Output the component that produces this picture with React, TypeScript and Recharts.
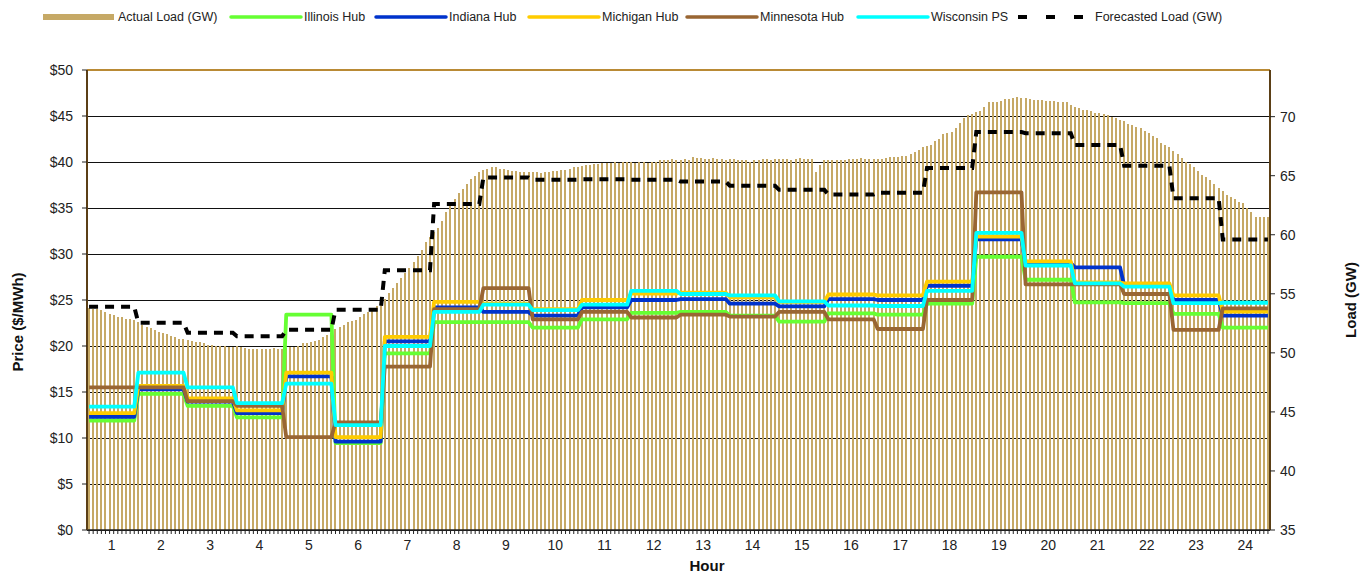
import React from 'react';
import { ComposedChart, Bar, Line, XAxis, YAxis, CartesianGrid, ReferenceLine } from 'recharts';

// 5-minute actual load (GW), 12 readings per hour
const actualLoad: number[][] = [
  [53.8, 53.7, 53.7, 53.6, 53.5, 53.3, 53.2, 53.0, 53.0, 52.9, 52.9, 52.8],
  [52.6, 52.4, 52.2, 52.1, 51.9, 51.8, 51.7, 51.6, 51.4, 51.3, 51.2, 51.2],
  [51.1, 51.0, 50.9, 50.9, 50.8, 50.7, 50.7, 50.6, 50.6, 50.6, 50.5, 50.5],
  [50.6, 50.5, 50.4, 50.3, 50.3, 50.3, 50.3, 50.3, 50.3, 50.4, 50.3, 50.3],
  [50.4, 50.5, 50.5, 50.6, 50.8, 50.8, 50.9, 51.0, 51.1, 51.3, 51.5, 51.7],
  [52.0, 52.2, 52.4, 52.6, 52.7, 52.8, 53.0, 53.3, 53.5, 53.7, 54.0, 54.3],
  [54.6, 55.1, 55.5, 55.9, 56.3, 56.8, 57.2, 57.7, 58.2, 58.7, 59.4, 59.8],
  [60.2, 60.6, 61.2, 61.9, 62.5, 63.0, 63.5, 63.9, 64.3, 64.7, 65.0, 65.3],
  [65.5, 65.6, 65.7, 65.7, 65.6, 65.6, 65.5, 65.4, 65.4, 65.3, 65.3, 65.3],
  [65.3, 65.3, 65.2, 65.3, 65.3, 65.4, 65.4, 65.5, 65.5, 65.6, 65.7, 65.7],
  [65.8, 65.9, 65.9, 66.0, 66.0, 66.1, 66.1, 66.1, 66.2, 66.1, 66.2, 66.2],
  [66.2, 66.1, 66.2, 66.2, 66.1, 66.2, 66.2, 66.3, 66.3, 66.3, 66.4, 66.3],
  [66.3, 66.4, 66.3, 66.6, 66.5, 66.5, 66.4, 66.4, 66.5, 66.4, 66.4, 66.3],
  [66.4, 66.4, 66.3, 66.3, 66.3, 66.2, 66.3, 66.3, 66.4, 66.4, 66.3, 66.4],
  [66.4, 66.4, 66.4, 66.3, 66.4, 66.5, 66.4, 66.4, 66.4, 65.3, 65.9, 66.3],
  [66.3, 66.3, 66.3, 66.3, 66.3, 66.4, 66.4, 66.4, 66.5, 66.4, 66.4, 66.4],
  [66.4, 66.4, 66.5, 66.6, 66.6, 66.6, 66.7, 66.7, 66.8, 67.0, 67.2, 67.4],
  [67.5, 67.6, 67.9, 68.1, 68.5, 68.6, 68.7, 69.0, 69.5, 69.9, 70.1, 70.2],
  [70.4, 70.5, 70.8, 71.2, 71.2, 71.2, 71.3, 71.5, 71.5, 71.6, 71.7, 71.6],
  [71.6, 71.5, 71.4, 71.4, 71.4, 71.3, 71.3, 71.3, 71.2, 71.2, 71.2, 71.0],
  [70.8, 70.7, 70.6, 70.6, 70.5, 70.3, 70.3, 70.2, 70.1, 70.0, 69.9, 69.7],
  [69.6, 69.4, 69.3, 69.1, 69.0, 68.8, 68.6, 68.4, 68.2, 67.8, 67.6, 67.4],
  [67.1, 66.8, 66.5, 66.2, 66.0, 65.7, 65.4, 65.1, 64.9, 64.6, 64.3, 64.0],
  [63.7, 63.4, 63.2, 63.0, 62.8, 62.7, 62.3, 61.9, 61.5, 61.5, 61.5, 61.5],
];

// hourly prices ($/MWh)
const illinoisHub = [11.9, 14.8, 13.5, 12.25, 23.4, 9.45, 19.2, 22.6, 22.6, 22.0, 22.9, 23.6, 23.7, 23.3, 22.65, 23.55, 23.4, 24.6, 29.7, 27.2, 24.75, 24.65, 23.5, 22.0];
const indianaHub = [12.3, 15.3, 13.95, 12.7, 16.7, 9.6, 20.5, 24.2, 23.7, 23.3, 24.2, 25.0, 25.1, 24.6, 24.3, 25.1, 25.0, 26.55, 31.6, 29.0, 28.55, 26.55, 25.0, 23.3];
const michiganHub = [12.7, 15.65, 14.3, 13.0, 17.1, 10.1, 21.0, 24.8, 24.6, 24.0, 25.0, 25.7, 25.8, 25.3, 24.8, 25.6, 25.5, 27.0, 31.9, 29.2, 26.9, 26.8, 25.5, 23.75];
const minnesotaHub = [15.5, 15.5, 14.0, 13.5, 10.1, 11.7, 17.75, 24.0, 26.3, 22.9, 23.7, 23.1, 23.4, 23.2, 23.7, 22.9, 21.85, 25.0, 36.7, 26.7, 26.7, 25.65, 21.75, 24.1];
const wisconsinPS = [13.4, 17.1, 15.5, 13.8, 15.9, 11.4, 20.0, 23.7, 24.5, 23.9, 24.5, 26.0, 25.65, 25.5, 24.85, 24.4, 24.35, 26.0, 32.3, 28.75, 26.8, 26.45, 24.65, 24.7];

// hourly forecast (GW)
const forecastLoad = [53.9, 52.55, 51.7, 51.4, 51.95, 53.65, 57.0, 62.6, 64.85, 64.65, 64.7, 64.65, 64.5, 64.15, 63.8, 63.4, 63.55, 65.65, 68.7, 68.6, 67.6, 65.85, 63.1, 59.6];

const hourLabels = ['1', '2', '3', '4', '5', '6', '7', '8', '9', '10', '11', '12', '13', '14', '15', '16', '17', '18', '19', '20', '21', '22', '23', '24'];
const priceTicks = [0, 5, 10, 15, 20, 25, 30, 35, 40, 45, 50];
const loadTicks = [35, 40, 45, 50, 55, 60, 65, 70];

const data = actualLoad.flatMap((vals, h) =>
  vals.map((load, k) => ({
    i: h * 12 + k,
    hour: hourLabels[h],
    load,
    illinois: illinoisHub[h],
    indiana: indianaHub[h],
    michigan: michiganHub[h],
    minnesota: minnesotaHub[h],
    wisconsin: wisconsinPS[h],
    forecast: forecastLoad[h],
  }))
);

const BAND = (1270 - 87) / data.length;
const FONT = '"Liberation Sans", Arial, sans-serif';
const TAN = '#C6A966';

function HourTick(props: any) {
  const { x, y, payload } = props;
  const i = Number(payload.value);
  if (i % 12 !== 6) return null;
  return (
    <text x={x - BAND / 2} y={y} dy={9} textAnchor="middle" dominantBaseline="central" fontSize={14} fill="#222" fontFamily={FONT}>
      {data[i].hour}
    </text>
  );
}

const legendItems = [
  { label: 'Actual Load (GW)', color: TAN, kind: 'box', x: 43 },
  { label: 'Illinois Hub', color: '#66FF33', kind: 'line', x: 229 },
  { label: 'Indiana Hub', color: '#0033CC', kind: 'line', x: 374 },
  { label: 'Michigan Hub', color: '#FFCC00', kind: 'line', x: 527 },
  { label: 'Minnesota Hub', color: '#996633', kind: 'line', x: 685 },
  { label: 'Wisconsin PS', color: '#00FFFF', kind: 'line', x: 856 },
  { label: 'Forecasted Load (GW)', color: '#000', kind: 'dash', x: 1018 },
];

function Overlay() {
  const ly = 17;
  return (
    <svg width={1372} height={574} style={{ position: 'absolute', left: 0, top: 0, pointerEvents: 'none' }}>
      {legendItems.map((it) => (
        <g key={it.label}>
          {it.kind === 'box' && <rect x={it.x} y={ly - 3} width={71} height={6} fill={it.color} />}
          {it.kind === 'line' && (
            <line x1={it.x + 2} x2={it.x + 72} y1={ly} y2={ly} stroke={it.color} strokeWidth={3.5} strokeLinecap="round" />
          )}
          {it.kind === 'dash' && (
            <line x1={it.x} x2={it.x + 66} y1={ly} y2={ly} stroke={it.color} strokeWidth={4} strokeDasharray="9 19" />
          )}
          <text
            x={it.kind === 'dash' ? it.x + 77 : it.x + 75}
            y={ly}
            dominantBaseline="central"
            fontSize={12.5}
            fill="#222"
            fontFamily={FONT}
          >
            {it.label}
          </text>
        </g>
      ))}
      <text x={707} y={565} textAnchor="middle" dominantBaseline="central" fontSize={15} fontWeight="bold" fill="#111" fontFamily={FONT}>
        Hour
      </text>
      <text
        x={17}
        y={322}
        transform="rotate(-90 17 322)"
        textAnchor="middle"
        dominantBaseline="central"
        fontSize={15}
        fontWeight="bold"
        fill="#111"
        fontFamily={FONT}
      >
        Price ($/MWh)
      </text>
      <text
        x={1350}
        y={300}
        transform="rotate(-90 1350 300)"
        textAnchor="middle"
        dominantBaseline="central"
        fontSize={15}
        fontWeight="bold"
        fill="#111"
        fontFamily={FONT}
      >
        Load (GW)
      </text>
    </svg>
  );
}

export default function App() {
  const lineProps = { type: 'linear' as const, dot: false, activeDot: false, strokeWidth: 3.8, strokeLinejoin: 'round' as const, isAnimationActive: false, yAxisId: 'price' };
  return (
    <div style={{ position: 'absolute', left: 0, top: 0, width: 1372, height: 574, background: '#fff', fontFamily: FONT }}>
      <ComposedChart width={1372} height={574} data={data} margin={{ top: 70, right: 0, bottom: 0, left: 0 }} barCategoryGap={0}>
        <CartesianGrid yAxisId="price" vertical={false} stroke="#111" strokeWidth={1} shapeRendering="crispEdges" />
        <XAxis
          dataKey="i"
          interval={0}
          height={44}
          tickSize={4}
          tickMargin={2}
          tick={<HourTick />}
          tickLine={{ stroke: '#222' }}
          axisLine={{ stroke: '#222', strokeWidth: 1.5 }}
        />
        <YAxis
          yAxisId="price"
          domain={[0, 50]}
          ticks={priceTicks}
          width={87}
          tickSize={5}
          tickMargin={9}
          tickFormatter={(v) => `$${v}`}
          tick={{ fontSize: 14, fill: '#222', fontFamily: FONT }}
          tickLine={{ stroke: '#222' }}
          axisLine={{ stroke: '#5B3F16', strokeWidth: 2 }}
        />
        <YAxis
          yAxisId="load"
          orientation="right"
          domain={[35, 73.95]}
          allowDataOverflow
          ticks={loadTicks}
          width={102}
          tickSize={5}
          tickMargin={5}
          tick={{ fontSize: 14, fill: '#222', fontFamily: FONT }}
          tickLine={{ stroke: '#222' }}
          axisLine={{ stroke: '#5B3F16', strokeWidth: 2 }}
        />
        <ReferenceLine yAxisId="price" y={50} stroke="#B98A35" strokeWidth={2} />
        <Bar yAxisId="load" dataKey="load" fill={TAN} barSize={2} shapeRendering="crispEdges" isAnimationActive={false} />
        <Line {...lineProps} dataKey="illinois" stroke="#66FF33" />
        <Line {...lineProps} dataKey="indiana" stroke="#0033CC" />
        <Line {...lineProps} dataKey="michigan" stroke="#FFCC00" />
        <Line {...lineProps} dataKey="minnesota" stroke="#996633" />
        <Line {...lineProps} dataKey="wisconsin" stroke="#00FFFF" />
        <Line
          yAxisId="load"
          type="linear"
          dataKey="forecast"
          stroke="#000"
          strokeWidth={4}
          strokeDasharray="9 7"
          dot={false}
          activeDot={false}
          isAnimationActive={false}
        />
      </ComposedChart>
      <Overlay />
    </div>
  );
}
